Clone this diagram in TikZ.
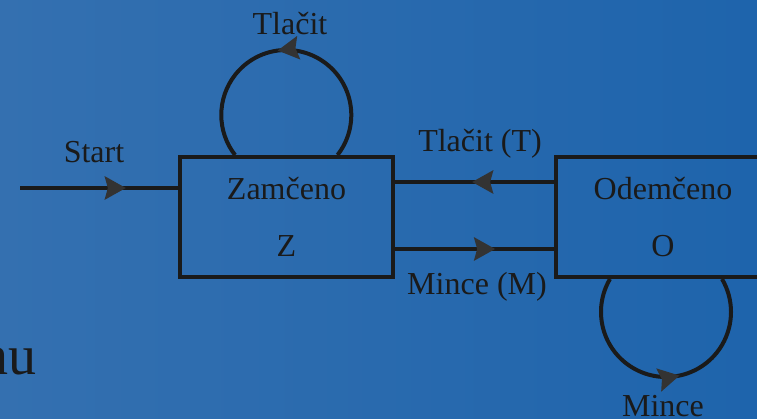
\documentclass[tikz,border=0pt]{standalone}
\usepackage{fontspec}
\setmainfont{Liberation Serif}
\usetikzlibrary{arrows.meta, decorations.markings, positioning}
\definecolor{bgleft}{RGB}{52,112,176}
\definecolor{bgright}{RGB}{30,100,172}
\definecolor{ink}{RGB}{26,26,26}
\definecolor{tipgray}{RGB}{51,51,51}

\begin{document}
\begin{tikzpicture}[x=1pt, y=1pt, line width=4pt, ink, font=\fontsize{32}{57}\selectfont]
\shade[left color=bgleft, right color=bgright] (0,0) rectangle (757,419);
\useasboundingbox (0,0) rectangle (757,419);

	\tikzset{state/.style={draw, rectangle, minimum width=213pt, minimum height=120pt, align=center, inner sep=0pt}}
	\tikzset{midarrow/.style={postaction={decorate}, decoration={markings,
		mark=at position #1 with {\arrow[tipgray]{Stealth[length=21pt, width=23pt, inset=3pt]}}}}}

\node[state] (zamceno) at (286.5,202) {Zamčeno\\Z};
\node[state, minimum width=214pt] (odemceno) at (663,202) {Odemčeno\\O};
\coordinate (start) at (20,231);

% prechody
\draw[midarrow=0.67] (start) -- (start -| zamceno.west);
\draw[midarrow=0.515] ([yshift=35pt]odemceno.west) -- ([yshift=35pt]zamceno.east);
\draw[midarrow=0.63] ([yshift=-32pt]zamceno.east) -- ([yshift=-32pt]odemceno.west);
\draw[midarrow=0.53] ([xshift=51pt]zamceno.north) arc[start angle=-38, end angle=218, radius=65pt];
\draw[midarrow=0.55] ([xshift=-53pt]odemceno.south) arc[start angle=149.5, end angle=390.5, radius=65pt];

% popisky
\node[anchor=base] (start_lbl) at (94,256) {Start};
\node[anchor=base] (tlacit_lbl) at (290,384) {Tlačit};
\node[anchor=base] (tlacitT_lbl) at (480,267) {Tlačit (T)};
\node[anchor=base] (minceM_lbl) at (477,124) {Mince (M)};
\node[anchor=base] (mince_lbl) at (663,2) {Mince};
\node[anchor=base east, font=\fontsize{56}{60}\selectfont] (nu_lbl) at (42,44) {nu};

\end{tikzpicture}
\end{document}
